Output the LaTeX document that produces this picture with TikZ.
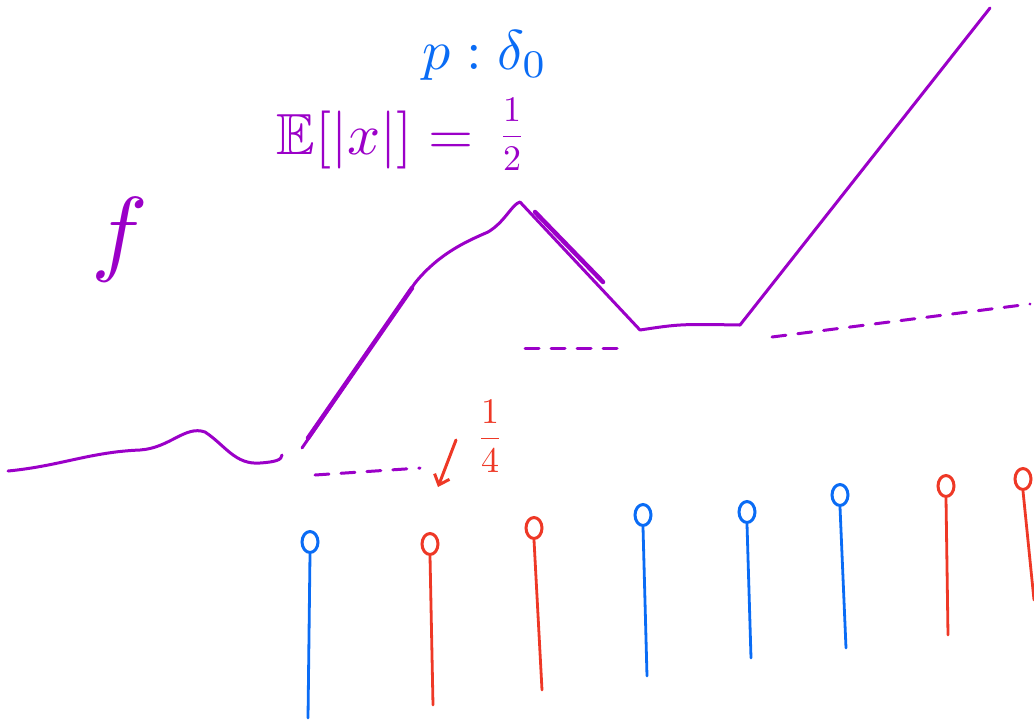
\documentclass[tikz,border=0pt]{standalone}
\usepackage{amsmath}
\usepackage{amssymb}
\usetikzlibrary{arrows.meta, positioning, shapes.geometric}
\definecolor{inkpurple}{HTML}{9B00C8}
\definecolor{inkblue}{HTML}{0A6CF5}
\definecolor{inkred}{HTML}{EE3826}

\begin{document}
\begin{tikzpicture}[
    x=1pt, y=-1pt,
    curve/.style={inkpurple, line width=3pt, line cap=round, line join=round},
    level/.style={inkpurple, line width=3pt, dash pattern=on 14pt off 12pt, line cap=round},
    pin/.style={ellipse, draw, line width=3pt, minimum width=16pt, minimum height=21pt, inner sep=0pt},
    stem/.style={line width=2.8pt, line cap=round},
    hand/.style={inner sep=0pt},
    frac/.style={hand, scale=3.6}
]
    \useasboundingbox (0,0) rectangle (1034,724);

    % labels
    \node[hand, text=inkblue, scale=5.6] (law) at (485,55) {$p : \delta_0$};
    \node[hand, text=inkpurple, scale=5.8, anchor=east] (mean) at (475,140)
        {$\mathbb{E}[|x|] =$};
    \node[frac, text=inkpurple] (half) at (512,134) {$\dfrac{1}{2}$};
    \node[hand, text=inkpurple, scale=9.5] (fn) at (120,240) {$f$};
    \node[frac, text=inkred] (quarter) at (490,436) {$\dfrac{1}{4}$};

    % the function
    \draw[curve] (8,471) .. controls (60,466) and (90,452) .. (140,450)
        .. controls (170,448) and (185,425) .. (205,432)
        .. controls (225,445) and (235,465) .. (260,463)
        .. controls (275,462) and (282,460) .. (282,455);
    \draw[curve] (302,448) -- (415,283)
        .. controls (440,252) and (470,240) .. (488,232)
        .. controls (505,222) and (512,204) .. (520,202)
        -- (640,330)
        .. controls (680,324) .. (740,325)
        -- (990,8);
    \draw[curve, line width=4.5pt] (308,438) -- (412,288);
    \draw[curve, line width=4.5pt] (535,212) -- (603,282);

    % levels
    \draw[level] (315,475) -- (420,468);
    \draw[level] (525,348) -- (620,348);
    \draw[level] (772,337) -- (1030,304);

    % pointer to 1/4
    \coordinate (tip) at (438,487);
    \draw[inkred, line width=3pt, line cap=round, -{Straight Barb[length=9pt, width=16pt]}]
        (456,440) -- (tip);

    % sample pins
    \foreach \i/\xa/\ya/\xb/\yb/\col in {
        1/310/542/308/718/inkblue, 2/430/544/433/705/inkred,
        3/534/528/542/690/inkred, 4/643/515/647/676/inkblue,
        5/747/512/751/658/inkblue, 6/840/495/846/648/inkblue,
        7/946/486/948/635/inkred, 8/1023/479/1034/600/inkred} {
        \node[pin, draw=\col] (s\i) at (\xa,\ya) {};
        \coordinate (b\i) at (\xb,\yb);
        \draw[stem, \col] (s\i.south) -- (b\i);
    }
\end{tikzpicture}
\end{document}
